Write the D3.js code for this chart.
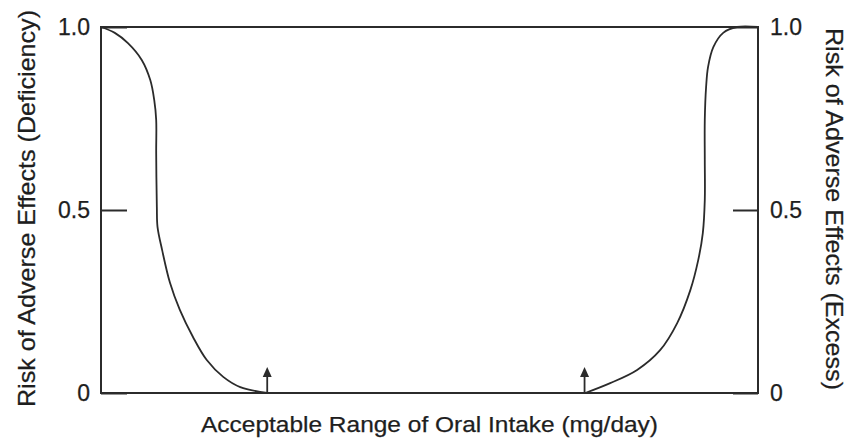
<!DOCTYPE html>
<html>
<head>
<meta charset="utf-8">
<script src="https://cdn.jsdelivr.net/npm/d3@7"></script>
<style>
  html, body { margin: 0; padding: 0; background: #fff; }
  svg { display: block; }
  text { font-family: "Liberation Sans", Arial, sans-serif; fill: #1e1e1e; stroke: #1e1e1e; stroke-width: 0.25px; }
</style>
</head>
<body>
<svg id="chart" width="849" height="442"></svg>
<script>
// ---- data ----
const yTickValues = [0, 0.5, 1];
const yTickLabels = ["0", "0.5", "1.0"];
// intake (arbitrary units 0..100) vs risk, deficiency side
const deficiencyX = [0, 2.1, 4.1, 6.2, 7.5, 8.1, 8.4, 8.4, 8.5, 8.6, 9.3, 10.5, 12.0, 14.0, 16.1, 18.6, 21.2, 25.3];
const deficiencyY = [1.0, 0.984, 0.956, 0.910, 0.855, 0.801, 0.746, 0.656, 0.508, 0.454, 0.391, 0.301, 0.227, 0.153, 0.090, 0.044, 0.016, 0];
// excess side
const excessX = [73.7, 77.5, 81.6, 85.1, 87.7, 89.7, 90.9, 91.6, 91.9, 91.9, 91.9, 92.1, 92.4, 93.2, 94.7, 96.8, 100];
const excessY = [0, 0.027, 0.063, 0.117, 0.191, 0.281, 0.363, 0.437, 0.527, 0.637, 0.746, 0.836, 0.891, 0.945, 0.984, 1.0, 1.0];
// acceptable range bounds (arrows)
const rangeBounds = [25.3, 73.6];
const xTitle = "Acceptable Range of Oral Intake (mg/day)";
const yLeftTitle = "Risk of Adverse Effects (Deficiency)";
const yRightTitle = "Risk of Adverse Effects (Excess)";

// ---- layout ----
(function () {
const svg = d3.select("#chart");
const mLeft = 101, mRight = 758, mTop = 27, mBottom = 393;
const x = d3.scaleLinear().domain([0, 100]).range([mLeft, mRight]);
const y = d3.scaleLinear().domain([0, 1]).range([mBottom, mTop]);
const ink = "#2b2b2b";

// box
svg.append("rect")
  .attr("x", x(0)).attr("y", y(1))
  .attr("width", x(100) - x(0)).attr("height", y(0) - y(1))
  .attr("fill", "none").attr("stroke", ink).attr("stroke-width", 2);

const fmt = v => yTickLabels[yTickValues.indexOf(v)];

const gl = svg.append("g").attr("transform", `translate(${x(0)},0)`)
  .call(d3.axisLeft(y).tickValues(yTickValues).tickFormat(fmt)
    .tickSizeInner(-26).tickSizeOuter(0).tickPadding(11));
const gr = svg.append("g").attr("transform", `translate(${x(100)},0)`)
  .call(d3.axisRight(y).tickValues(yTickValues).tickFormat(fmt)
    .tickSizeInner(-25).tickSizeOuter(0).tickPadding(12));
[gl, gr].forEach(g => {
  g.select(".domain").remove();
  g.selectAll(".tick line").attr("stroke", ink).attr("stroke-width", 2);
  g.selectAll(".tick text").attr("font-size", 23).attr("fill", "#1e1e1e")
    .attr("font-family", "Liberation Sans, Arial, sans-serif");
});

// curves
const line = d3.line().x(d => x(d[0])).y(d => y(d[1])).curve(d3.curveCatmullRom.alpha(0.5));
svg.append("path")
  .datum(deficiencyX.map((v, i) => [v, deficiencyY[i]]))
  .attr("d", line).attr("fill", "none").attr("stroke", ink).attr("stroke-width", 1.8);
svg.append("path")
  .datum(excessX.map((v, i) => [v, excessY[i]]))
  .attr("d", line).attr("fill", "none").attr("stroke", ink).attr("stroke-width", 1.8);

// arrows
rangeBounds.forEach(b => {
  const ax = x(b);
  svg.append("line").attr("x1", ax).attr("x2", ax)
    .attr("y1", y(0)).attr("y2", y(0) - 18)
    .attr("stroke", ink).attr("stroke-width", 1.8);
  svg.append("path")
    .attr("d", `M${ax},${y(0) - 26} L${ax - 4.5},${y(0) - 16} L${ax + 4.5},${y(0) - 16} Z`)
    .attr("fill", ink);
});

// titles
svg.append("text").attr("x", 201).attr("y", 432)
  .attr("font-size", 22.5).attr("textLength", 457).attr("lengthAdjust", "spacingAndGlyphs")
  .text(xTitle);
svg.append("text").attr("transform", "translate(35,407) rotate(-90)")
  .attr("font-size", 24.5).attr("textLength", 397).attr("lengthAdjust", "spacingAndGlyphs")
  .text(yLeftTitle);
svg.append("text").attr("transform", "translate(826,28) rotate(90)")
  .attr("font-size", 24.5).attr("textLength", 362).attr("lengthAdjust", "spacingAndGlyphs")
  .text(yRightTitle);
})();
</script>
</body>
</html>
